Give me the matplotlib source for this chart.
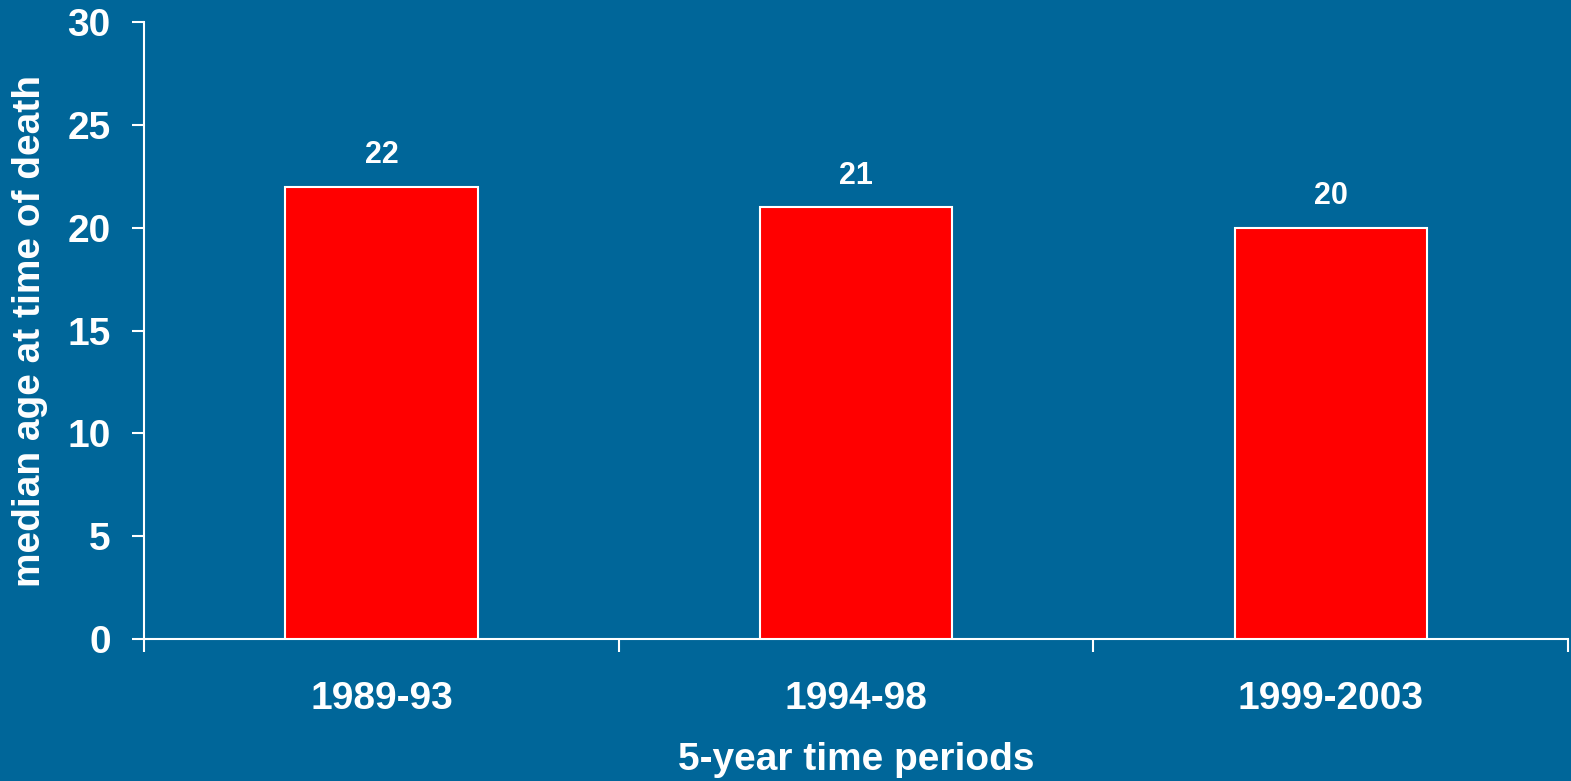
import numpy as np
import matplotlib.pyplot as plt

# values
periods = ["1989-93", "1994-98", "1999-2003"]
median_age = [22, 21, 20]

bg = "#006699"
plt.rcParams["font.family"] = ["Liberation Sans", "DejaVu Sans"]
plt.rcParams["font.weight"] = "bold"

fig = plt.figure(figsize=(15.71, 7.81), dpi=100, facecolor=bg)
ax = fig.add_axes([0.0917, 0.1818, 0.9065, 0.79])
ax.set_facecolor(bg)

x = np.arange(len(periods))
bars = ax.bar(x, median_age, width=0.405, color="#ff0000", edgecolor="white", linewidth=1.5, zorder=3)
for b, v in zip(bars, median_age):
    ax.text(b.get_x() + b.get_width() / 2, v + 0.8, str(v), ha="center", va="bottom",
            color="white", fontsize=22, fontweight="bold")

ax.set_xlim(-0.5, len(periods) - 0.5)
ax.set_ylim(0, 30)
ax.set_yticks(range(0, 31, 5))
ax.set_xticks(x)
ax.set_xticklabels(periods)
ax.set_xticks(np.arange(-0.5, len(periods)), minor=True)

for s in ["top", "right"]:
    ax.spines[s].set_visible(False)
for s in ["left", "bottom"]:
    ax.spines[s].set_color("white")
    ax.spines[s].set_linewidth(1.5)

ax.tick_params(axis="y", colors="white", labelsize=28, length=9, width=1.5, pad=15)
ax.tick_params(axis="x", which="major", colors="white", labelsize=28, length=0, pad=30)
ax.tick_params(axis="x", which="minor", colors="white", length=9, width=1.5)
for lab in ax.get_xticklabels() + ax.get_yticklabels():
    lab.set_fontweight("bold")

ax.set_xlabel("5-year time periods", color="white", fontsize=28, fontweight="bold", labelpad=18)
ax.set_ylabel("median age at time of death", color="white", fontsize=28, fontweight="bold", labelpad=14)

fig.savefig("out.png", dpi=100, facecolor=bg)
